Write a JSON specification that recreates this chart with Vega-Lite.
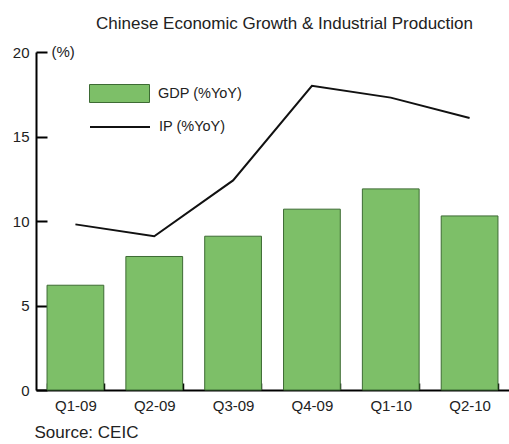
{
  "$schema": "https://vega.github.io/schema/vega-lite/v6.json",
  "width": 473,
  "height": 338,
  "autosize": "none",
  "padding": {"left": 36, "top": 52, "right": 0, "bottom": 54},
  "background": "#ffffff",
  "config": {
    "font": "Liberation Sans",
    "view": {"stroke": null}
  },
  "title": {
    "text": "Chinese Economic Growth & Industrial Production",
    "fontSize": 17,
    "fontWeight": "normal",
    "color": "#222222",
    "anchor": "middle",
    "dx": 12,
    "offset": 11
  },
  "data": {
    "values": [
      {"quarter": "Q1-09", "gdp": 6.2, "ip": 9.8, "gs": "GDP (%YoY)", "is": "IP (%YoY)"},
      {"quarter": "Q2-09", "gdp": 7.9, "ip": 9.1, "gs": "GDP (%YoY)", "is": "IP (%YoY)"},
      {"quarter": "Q3-09", "gdp": 9.1, "ip": 12.4, "gs": "GDP (%YoY)", "is": "IP (%YoY)"},
      {"quarter": "Q4-09", "gdp": 10.7, "ip": 18.0, "gs": "GDP (%YoY)", "is": "IP (%YoY)"},
      {"quarter": "Q1-10", "gdp": 11.9, "ip": 17.3, "gs": "GDP (%YoY)", "is": "IP (%YoY)"},
      {"quarter": "Q2-10", "gdp": 10.3, "ip": 16.1, "gs": "GDP (%YoY)", "is": "IP (%YoY)"}
    ]
  },
  "encoding": {
    "x": {
      "field": "quarter",
      "type": "nominal",
      "sort": null,
      "scale": {"paddingInner": 0.28, "paddingOuter": 0.14},
      "axis": {
        "title": "Source: CEIC",
        "titleFontSize": 17,
        "titleFontWeight": "normal",
        "titleColor": "#222222",
        "titleAnchor": "start",
        "titleAlign": "left",
        "titleBaseline": "middle",
        "titleX": -2,
        "titleY": 42,
        "labelAngle": 0,
        "labelFontSize": 15,
        "labelColor": "#222222",
        "labelPadding": 15,
        "tickBand": "extent",
        "tickSize": -7,
        "tickColor": "#000000",
        "tickWidth": 1.5,
        "domainColor": "#000000",
        "domainWidth": 2
      }
    }
  },
  "layer": [
    {
      "mark": {"type": "bar", "stroke": "#3d6b34", "strokeWidth": 1, "fill": "#7dbf68"},
      "encoding": {
        "y": {
          "field": "gdp",
          "type": "quantitative",
          "scale": {"domain": [0, 20], "nice": false},
          "axis": {
            "title": "(%)",
            "titleAngle": 0,
            "titleFontSize": 15,
            "titleFontWeight": "normal",
            "titleColor": "#222222",
            "titleAlign": "left",
            "titleBaseline": "middle",
            "titleX": 15,
            "titleY": -1,
            "values": [0, 5, 10, 15, 20],
            "grid": false,
            "labelFontSize": 15,
            "labelColor": "#222222",
            "labelPadding": 18,
            "tickSize": -11,
            "tickColor": "#000000",
            "tickWidth": 2,
            "domainColor": "#000000",
            "domainWidth": 2
          }
        },
        "fill": {
          "field": "gs",
          "type": "nominal",
          "scale": {"range": ["#7dbf68"]},
          "legend": {
            "title": null,
            "orient": "none",
            "legendX": 53,
            "legendY": 11,
            "padding": 0,
            "symbolType": "M-1,-0.3H1V0.3H-1Z",
            "symbolSize": 3600,
            "symbolStrokeColor": "#3d6b34",
            "symbolStrokeWidth": 1,
            "symbolOpacity": 1,
            "labelFontSize": 14.5,
            "labelColor": "#222222",
            "labelOffset": 8
          }
        }
      }
    },
    {
      "mark": {"type": "line", "strokeWidth": 2},
      "encoding": {
        "y": {"field": "ip", "type": "quantitative"},
        "stroke": {
          "field": "is",
          "type": "nominal",
          "scale": {"range": ["#111111"]},
          "legend": {
            "title": null,
            "orient": "none",
            "legendX": 53,
            "legendY": 44,
            "padding": 0,
            "symbolType": "stroke",
            "symbolSize": 3600,
            "symbolStrokeWidth": 2,
            "labelFontSize": 14.5,
            "labelColor": "#222222",
            "labelOffset": 8
          }
        }
      }
    }
  ]
}
